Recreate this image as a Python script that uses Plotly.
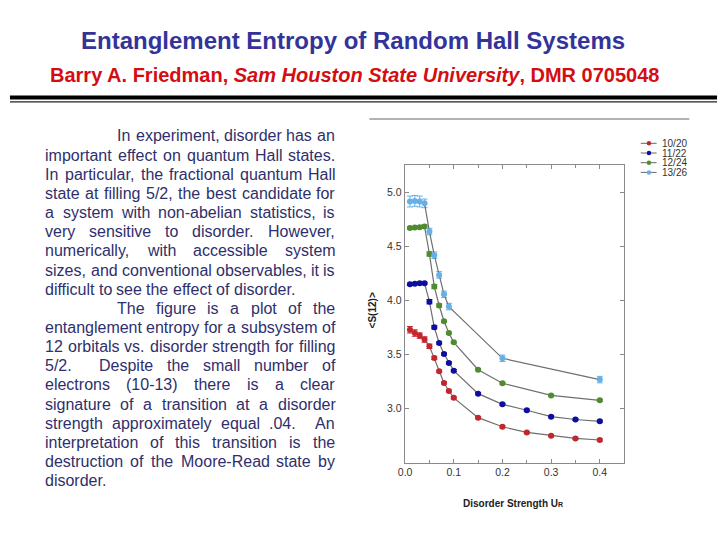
import re
import plotly.graph_objects as go

# ---------------- data ----------------
series_names = ["10/20", "11/22", "12/24", "13/26"]
series_colors = ["#c3262b", "#0d0d9e", "#4f8b2f", "#66b0e6"]

x_red = [0.01, 0.02, 0.03, 0.04, 0.05, 0.06, 0.07, 0.08, 0.09, 0.10, 0.15, 0.20, 0.25, 0.30, 0.35, 0.40]
y_red = [3.73, 3.70, 3.676, 3.64, 3.577, 3.47, 3.346, 3.238, 3.164, 3.10, 2.917, 2.833, 2.78, 2.75, 2.725, 2.71]
e_red = [0.03, 0.03, 0.025, 0.025, 0.02, 0.015, 0.01, 0.01, 0.01, 0.01, 0.01, 0.01, 0.01, 0.01, 0.01, 0.01]

x_blue = [0.01, 0.02, 0.03, 0.04, 0.05, 0.06, 0.07, 0.08, 0.09, 0.10, 0.15, 0.20, 0.25, 0.30, 0.35, 0.40]
y_blue = [4.151, 4.157, 4.16, 4.16, 3.99, 3.753, 3.608, 3.506, 3.423, 3.352, 3.139, 3.04, 2.985, 2.926, 2.90, 2.883]
e_blue = [0.01, 0.01, 0.01, 0.01, 0.02, 0.015, 0.01, 0.01, 0.01, 0.01, 0.01, 0.01, 0.01, 0.01, 0.01, 0.01]

x_green = [0.01, 0.02, 0.03, 0.04, 0.05, 0.06, 0.07, 0.08, 0.09, 0.10, 0.15, 0.20, 0.30, 0.40]
y_green = [4.673, 4.676, 4.679, 4.685, 4.432, 4.13, 3.955, 3.809, 3.70, 3.614, 3.361, 3.235, 3.123, 3.077]
e_green = [0.01, 0.01, 0.01, 0.015, 0.02, 0.02, 0.015, 0.01, 0.01, 0.01, 0.01, 0.01, 0.01, 0.01]

x_lblue = [0.01, 0.02, 0.03, 0.04, 0.05, 0.06, 0.07, 0.08, 0.09, 0.20, 0.40]
y_lblue = [4.917, 4.923, 4.917, 4.90, 4.639, 4.42, 4.238, 4.058, 3.945, 3.466, 3.269]
e_lblue = [0.05, 0.05, 0.05, 0.04, 0.03, 0.03, 0.03, 0.03, 0.03, 0.03, 0.03]

x_tickvals = [0.0, 0.1, 0.2, 0.3, 0.4]
x_ticktext = ["0.0", "0.1", "0.2", "0.3", "0.4"]
y_tickvals = [3.0, 3.5, 4.0, 4.5, 5.0]
y_ticktext = ["3.0", "3.5", "4.0", "4.5", "5.0"]

title_text = "Entanglement Entropy of Random Hall Systems"
subtitle_text = "Barry A. Friedman, <i>Sam Houston State University</i>, DMR 0705048"
x_title = "Disorder Strength U<span style='font-size:7px'>R</span>"
y_title = "&lt;S(12)&gt;"

# paragraph lines: (text, indented, justified)
para_lines = [
    ("In experiment, disorder has an", True, True),
    ("important effect on quantum Hall states.", False, True),
    ("In particular, the fractional quantum Hall", False, True),
    ("state at filling 5/2, the best candidate for", False, True),
    ("a system with non-abelian statistics, is", False, True),
    ("very sensitive to disorder. However,", False, True),
    ("numerically, with accessible system", False, True),
    ("sizes, and conventional observables, it is", False, True),
    ("difficult to see the effect of disorder.", False, False),
    ("The figure is a plot of the", True, True),
    ("entanglement entropy for a subsystem of", False, True),
    ("12 orbitals vs. disorder strength for filling", False, True),
    ("5/2.  Despite the small number of", False, True),
    ("electrons (10-13) there is a clear", False, True),
    ("signature of a transition at a disorder", False, True),
    ("strength approximately equal .04.  An", False, True),
    ("interpretation of this transition is the", False, True),
    ("destruction of the Moore-Read state by", False, True),
    ("disorder.", False, False),
]

# ---------------- helpers ----------------
W, H = 720, 540
AW = {c: w for c, w in zip("abcdefghijklmnopqrstuvwxyz",
      [556, 556, 500, 556, 556, 278, 556, 556, 222, 222, 500, 222, 833, 556, 556, 556, 556, 333, 500, 278, 556, 500, 722, 500, 500, 500])}
AW.update({c: w for c, w in zip("ABCDEFGHIJKLMNOPQRSTUVWXYZ",
      [667, 667, 722, 722, 667, 611, 778, 722, 278, 500, 667, 556, 833, 722, 778, 667, 778, 722, 667, 611, 722, 667, 944, 667, 667, 611])})
AW.update({d: 556 for d in "0123456789"})
AW.update({" ": 278, ".": 278, ",": 278, "/": 278, "-": 333, "(": 333, ")": 333})


def tw(s, size):
    return sum(AW.get(c, 556) for c in s) * size / 1000.0


def px(x):
    return x / W


def py(y):
    return 1 - y / H


fig = go.Figure()

for name, col, xs, ys, es in [
    (series_names[0], series_colors[0], x_red, y_red, e_red),
    (series_names[1], series_colors[1], x_blue, y_blue, e_blue),
    (series_names[2], series_colors[2], x_green, y_green, e_green),
    (series_names[3], series_colors[3], x_lblue, y_lblue, e_lblue),
]:
    fig.add_trace(go.Scatter(
        x=xs, y=ys, name=name, mode="lines+markers",
        line=dict(color="#6f6f6f", width=1.2),
        marker=dict(color=col, size=6, line=dict(width=0)),
        error_y=dict(type="data", array=es, visible=True, color=col, thickness=1, width=3),
        showlegend=False,
    ))

annotations = []
shapes = []

# title / subtitle
annotations.append(dict(text="<b>" + title_text + "</b>", x=px(349), y=py(40), xref="paper", yref="paper",
                        showarrow=False, xanchor="center", yanchor="middle",
                        font=dict(family="Liberation Sans, Arial", size=24, color="#333399")))
annotations.append(dict(text="<b>" + subtitle_text + "</b>", x=px(350.5), y=py(75), xref="paper", yref="paper",
                        showarrow=False, xanchor="center", yanchor="middle",
                        font=dict(family="Liberation Sans, Arial", size=20, color="#d40d12")))

# rules
shapes.append(dict(type="line", xref="paper", yref="paper", x0=px(3), x1=px(717), y0=py(97.5), y1=py(97.5),
                   line=dict(color="black", width=4)))
shapes.append(dict(type="line", xref="paper", yref="paper", x0=px(3), x1=px(717), y0=py(101.8), y1=py(101.8),
                   line=dict(color="#222", width=1.2)))
shapes.append(dict(type="line", xref="paper", yref="paper", x0=px(366), x1=px(689), y0=py(119), y1=py(119),
                   line=dict(color="#999", width=1.3)))

# paragraph with justification, word by word
FS = 16
LEFT, RIGHT, INDENT = 37.5, 330.0, 110.5
Y0, DY = 136.0, 19.15
sp = tw(" ", FS)
for i, (line, indented, justify) in enumerate(para_lines):
    toks = re.findall(r"(\S+)(\s*)", line)
    start = INDENT if indented else LEFT
    words_w = sum(tw(w, FS) for w, _ in toks)
    nsp = sum(len(s) for _, s in toks)
    extra = 0.0
    if justify and nsp > 0:
        extra = (RIGHT - start - words_w - nsp * sp) / nsp
    x = start
    y = Y0 + i * DY
    for w, s in toks:
        annotations.append(dict(text=w, x=px(x), y=py(y), xref="paper", yref="paper", showarrow=False,
                                xanchor="left", yanchor="middle", borderpad=0,
                                font=dict(family="Liberation Sans, Arial", size=FS, color="#2f2f6b")))
        x += tw(w, FS) + len(s) * (sp + extra)

# axis titles
annotations.append(dict(text="<b>" + x_title + "</b>", x=px(511), y=py(503), xref="paper", yref="paper",
                        showarrow=False, xanchor="center", yanchor="middle",
                        font=dict(family="Liberation Sans, Arial", size=10, color="#222")))
annotations.append(dict(text="<b>" + y_title + "</b>", x=px(369), y=py(310), xref="paper", yref="paper",
                        showarrow=False, xanchor="center", yanchor="middle", textangle=-90,
                        font=dict(family="Liberation Sans, Arial", size=10, color="#222")))

# legend (drawn manually for compact spacing)
leg_y = [143.3, 153.0, 162.7, 172.4]
for name, col, ly in zip(series_names, series_colors, leg_y):
    shapes.append(dict(type="line", xref="paper", yref="paper", x0=px(640), x1=px(656), y0=py(ly), y1=py(ly),
                       line=dict(color="#666", width=1)))
    shapes.append(dict(type="circle", xref="paper", yref="paper", x0=px(646), x1=px(650.5),
                       y0=py(ly - 2.25), y1=py(ly + 2.25), fillcolor=col, line=dict(width=0)))
    annotations.append(dict(text=name, x=px(660.5), y=py(ly), xref="paper", yref="paper", showarrow=False,
                            xanchor="left", yanchor="middle", borderpad=0,
                            font=dict(family="Liberation Sans, Arial", size=10, color="#333")))

axis_common = dict(showgrid=False, zeroline=False, showline=True, linecolor="#8a8a8a", linewidth=1,
                   mirror="allticks", ticks="inside", ticklen=4, tickcolor="#8a8a8a", tickwidth=1,
                   tickfont=dict(family="Liberation Sans, Arial", size=10.5, color="#333"))

fig.update_layout(
    width=W, height=H,
    margin=dict(l=0, r=0, t=0, b=0),
    paper_bgcolor="white", plot_bgcolor="white",
    showlegend=False,
    xaxis=dict(domain=[401.5 / W, 623.2 / W], range=[-0.001, 0.45],
               tickvals=x_tickvals, ticktext=x_ticktext,
               minor=dict(dtick=0.05, ticks="inside", ticklen=2.5, tickcolor="#8a8a8a"),
               **axis_common),
    yaxis=dict(domain=[1 - 462.7 / H, 1 - 165.0 / H], range=[2.5, 5.255],
               tickvals=y_tickvals, ticktext=y_ticktext,
               **axis_common),
    annotations=annotations,
    shapes=shapes,
)

fig.write_html("out.html", config={"displayModeBar": False},
               post_script="document.body.style.margin='0px';")
